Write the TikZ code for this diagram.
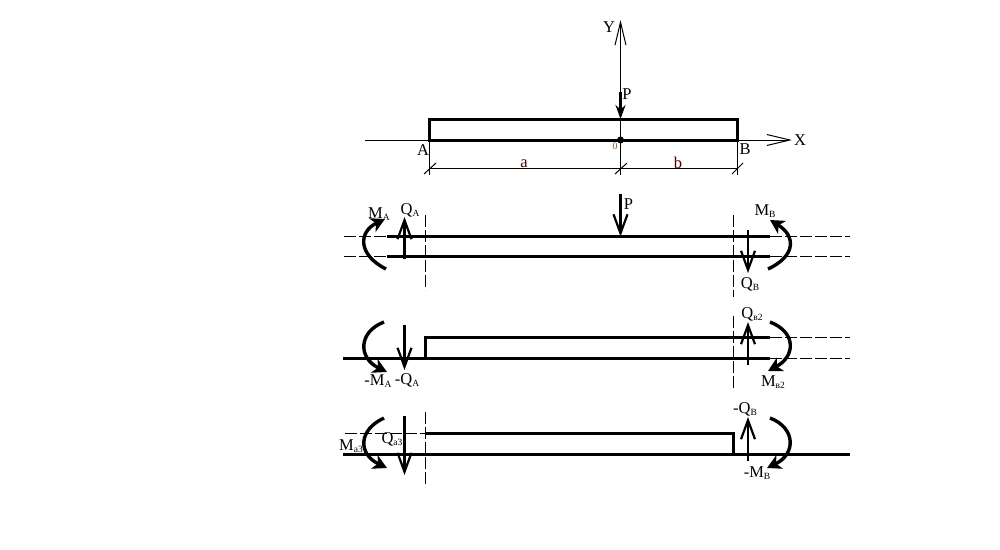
\documentclass[tikz,border=0pt]{standalone}
\usepackage{fontspec}
\setmainfont{Liberation Serif}
\usetikzlibrary{arrows.meta}
\newcommand{\lowidx}[1]{\raisebox{-2.5pt}{\fontsize{9.5}{9.5}\selectfont #1}}
\tikzset{
  lbl/.style={inner sep=0pt,font=\fontsize{16.5}{17}\selectfont},
  thinline/.style={line width=1pt},
  beam/.style={line width=3pt},
  cut/.style={line width=0.9pt,dash pattern=on 12pt off 3pt},
  axis/.style={line width=1pt,-{Straight Barb[length=23pt,width=11pt]}},
  force/.style={line width=2.6pt,-{Straight Barb[length=19pt,width=14pt,line width=2.2pt]}},
  moment/.style={line width=3.4pt,-{Stealth[length=14pt,width=15pt,inset=4pt]}}
}
\begin{document}
\begin{tikzpicture}[x=1pt,y=-1pt]
      \useasboundingbox (0,0) rectangle (1000,549);
      % beam with axes
      \coordinate (o) at (620.5,140);
      \coordinate (ytip) at (620.5,20);
      \coordinate (xtip) at (792,140);
      \coordinate (xstart) at (365,140);
      \coordinate (ptop) at (620.5,92);
      \coordinate (pend) at (620.5,119);
      \draw[axis] (o |- 0,175) -- (ytip);
      \draw[axis] (xstart) -- (xtip);
      \draw[beam] (429,119) rectangle (737,140);
      \draw[line width=3.2pt,-{Stealth[length=14pt,width=10pt]}] (ptop) -- (pend);
      \fill (o) circle (3.5pt);
      \node[lbl](y) at (609,27) {Y};
      \node[lbl](x) at (800,140) {X};
      \node[lbl](p) at (627,94) {P};
      \node[lbl](a) at (423,150) {A};
      \node[lbl](b) at (745,149) {B};
      \node[inner sep=0pt,font=\fontsize{10}{10}\selectfont,text=brown!70!black](zero) at (615,146) {0};
      % dimensions
      \draw[thinline] (429,140) -- (429,175) (737,140) -- (737,175) (429,168) -- (737,168);
      \draw[thinline] (424,174) -- (436,163) (615,174) -- (627,163) (732,174) -- (743,163);
      \node[lbl,text=black!70!red](la) at (524,164) {a};
      \node[lbl,text=black!70!red](lb) at (678,163) {b};
      % first cut
      \draw[cut] (344,236.5) -- (387,236.5) (344,256.5) -- (387,256.5);
      \draw[cut] (770,236.5) -- (850,236.5) (770,256.5) -- (850,256.5);
      \draw[beam] (387,236.5) -- (770,236.5) (387,256.5) -- (770,256.5);
      \draw[cut] (425,215) -- (425,290);
      \draw[cut] (733,215) -- (733,297);
      \draw[force] (620.5,194) -- (620.5,236.5);
      \draw[force] (404.5,259) -- (404.5,217);
      \draw[force] (748,230) -- (748,273);
      \draw[moment] (386,269) .. controls (358,255) and (358,232) .. (385,219);
      \draw[moment] (768,269) .. controls (796,256) and (796,236) .. (770,220);
      \node[lbl](ma) at (379,214) {M\lowidx{A}};
      \node[lbl](qa) at (410,210) {Q\lowidx{A}};
      \node[lbl](p2) at (628.5,204) {P};
      \node[lbl](mb) at (765,211) {M\lowidx{B}};
      \node[lbl](qb) at (750,284) {Q\lowidx{B}};
      % second cut
      \draw[cut] (770,337) -- (850,337) (770,358) -- (850,358);
      \draw[beam] (343,358) -- (770,358) (425.5,358) -- (425.5,337) -- (770,337);
      \draw[cut] (733,316) -- (733,391);
      \draw[force] (404.5,325) -- (404.5,370);
      \draw[force] (748,365) -- (748,322);
      \draw[moment] (384,322) .. controls (358,332) and (358,358) .. (387,372);
      \draw[moment] (770,322) .. controls (796,332) and (796,356) .. (768,371);
      \node[lbl](ma2) at (378,381) {-M\lowidx{A}};
      \node[lbl](qa2) at (407,380) {-Q\lowidx{A}};
      \node[lbl](qb2) at (752,314) {Q\lowidx{в2}};
      \node[lbl](mb2) at (773,382) {M\lowidx{в2}};
      % third cut
      \draw[cut] (345,433) -- (425,433);
      \draw[beam] (343,454) -- (850,454) (425,433) -- (733,433) -- (733,454);
      \draw[cut] (425,412) -- (425,487);
      \draw[force] (404.5,416) -- (404.5,475);
      \draw[force] (748,461) -- (748,417);
      \draw[moment] (384,418) .. controls (358,430) and (358,454) .. (387,468);
      \draw[moment] (770,418) .. controls (796,428) and (796,454) .. (767,468);
      \node[lbl](ma3) at (351,446) {M\lowidx{a3}};
      \node[lbl](qa3) at (392,439) {Q\lowidx{a3}};
      \node[lbl](qb3) at (745,409) {-Q\lowidx{B}};
      \node[lbl](mb3) at (757,473) {-M\lowidx{B}};
\end{tikzpicture}
\end{document}
